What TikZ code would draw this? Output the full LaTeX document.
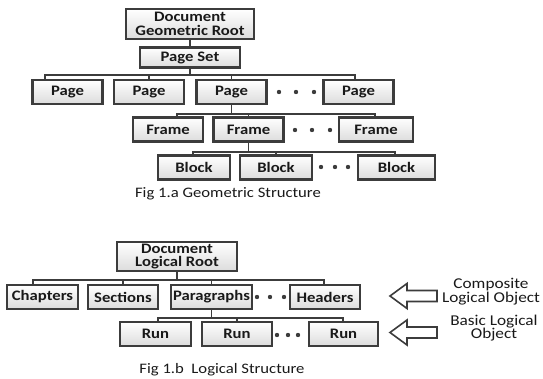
\documentclass[tikz,border=0pt]{standalone}
\usepackage{fontspec}
\setmainfont{Carlito}[FakeStretch=1.15]
\usepackage{xcolor}
\usepackage{tikz}
\definecolor{boxline}{RGB}{60,60,60}
\definecolor{boxfill}{RGB}{220,220,220}

\begin{document}
\begin{tikzpicture}[
    x=1pt, y=-1pt,
    box/.style={draw=boxline, line width=2.2pt, top color=white, bottom color=boxfill, minimum width=70pt, minimum height=24pt, inner sep=0pt, align=center, text=black!90, font=\bfseries\fontsize{14.5}{13.5}\selectfont},
    link/.style={draw=boxline, line width=1.6pt},
    note/.style={align=center, text=black!90, font=\fontsize{15}{13.5}\selectfont},
    hollowarrow/.pic={\draw[boxline, line width=1.6pt, fill=white, line join=miter] (-23.5,0) -- (-6.5,-12.5) -- (-6.5,-5.5) -- (23.5,-5.5) -- (23.5,5.5) -- (-6.5,5.5) -- (-6.5,12.5) -- cycle;}
]
\useasboundingbox (0,0) rectangle (543,379);

% geometric tree
\node[box, minimum width=128pt, minimum height=30pt] (georoot) at (190,24) {Document\\Geometric Root};
\node[box, minimum width=100pt, minimum height=20pt] (pageset) at (190,57.5) {Page Set};
\node[box] (page1) at (67.5,92) {Page};
\node[box] (page2) at (149,92) {Page};
\node[box] (page3) at (231.5,92) {Page};
\node[box] (page4) at (358.5,92) {Page};
\node[box] (frame1) at (168,129.5) {Frame};
\node[box] (frame2) at (248.5,129.5) {Frame};
\node[box, minimum width=74pt] (frame3) at (376,129.5) {Frame};
\node[box, minimum width=72pt] (block1) at (194,167.5) {Block};
\node[box, minimum width=72pt] (block2) at (276,167.5) {Block};
\node[box, minimum width=77pt] (block3) at (396.5,167.5) {Block};
\node[note, font=\fontsize{14.5}{13.5}\selectfont] (geocap) at (228,194) {Fig 1.a Geometric Structure};

\coordinate (pagebusL) at (45,75);
\coordinate (pagebusR) at (355,75);
\coordinate (framebusL) at (177,114);
\coordinate (framebusR) at (375,114);
\coordinate (blockbusL) at (193,152);
\coordinate (blockbusR) at (395,152);

\draw[link] (georoot.south) -- (pageset.north);
\draw[link] (pageset.south) -- (pageset.south |- pagebusL);
\draw[link] (page1.north -| pagebusL) -- (pagebusL) -- (pagebusR) -- (page4.north -| pagebusR);
\draw[link] (page2.north) -- (page2.north |- pagebusL);
\draw[link] (page3.north) -- (page3.north |- pagebusL);

\draw[link] (page3.south) -- (page3.south |- framebusL);
\draw[link] (frame1.north -| framebusL) -- (framebusL) -- (framebusR) -- (frame3.north -| framebusR);
\draw[link] (frame2.north) -- (frame2.north |- framebusL);

\draw[link] (frame2.south) -- (frame2.south |- blockbusL);
\draw[link] (block1.north -| blockbusL) -- (blockbusL) -- (blockbusR) -- (block3.north -| blockbusR);
\draw[link] (block2.north) -- (block2.north |- blockbusL);

% logical tree
\node[box, minimum width=120pt, minimum height=29pt] (logroot) at (177,256.5) {Document\\Logical Root};
\node[box, minimum width=71pt] (chapters) at (42.5,297) {Chapters};
\node[box] (sections) at (123,297) {Sections};
\node[box, minimum width=81pt] (paragraphs) at (211.5,297) {Paragraphs};
\node[box] (headers) at (325,297) {Headers};
\node[box, minimum width=71pt] (run1) at (155.5,334) {Run};
\node[box] (run2) at (237,334) {Run};
\node[box, minimum width=69pt] (run3) at (343.5,334) {Run};
\node[note, font=\fontsize{14.5}{13.5}\selectfont] (logcap) at (222,370) {Fig 1.b\ \ Logical Structure};

\coordinate (rowbusL) at (33,280);
\coordinate (rowbusR) at (324,280);
\coordinate (runbusL) at (158,318);
\coordinate (runbusR) at (343,318);

\draw[link] (logroot.south) -- (logroot.south |- rowbusL);
\draw[link] (chapters.north -| rowbusL) -- (rowbusL) -- (rowbusR) -- (headers.north -| rowbusR);
\draw[link] (sections.north) -- (sections.north |- rowbusL);
\draw[link] (paragraphs.north) -- (paragraphs.north |- rowbusL);

\draw[link] (paragraphs.south) -- (paragraphs.south |- runbusL);
\draw[link] (run1.north -| runbusL) -- (runbusL) -- (runbusR) -- (run3.north -| runbusR);
\draw[link] (run2.north) -- (run2.north |- runbusL);

% ellipsis dots between siblings
\foreach \x/\y in {279/92, 296/92, 314/92, 295/130, 312/130, 330/130, 321/167, 335/167, 348/167,
                   257/297, 270/297, 284/297, 277/335, 288/335, 298/335}
  \fill[boxline] (\x,\y) circle (2.2pt);

% object kinds on the right
\pic at (413.5,296) {hollowarrow};
\pic at (413.5,332.5) {hollowarrow};
\node[note] (composite) at (491,291.5) {Composite\\Logical Object};
\node[note] (basic) at (494,328) {Basic Logical\\Object};
\end{tikzpicture}
\end{document}
